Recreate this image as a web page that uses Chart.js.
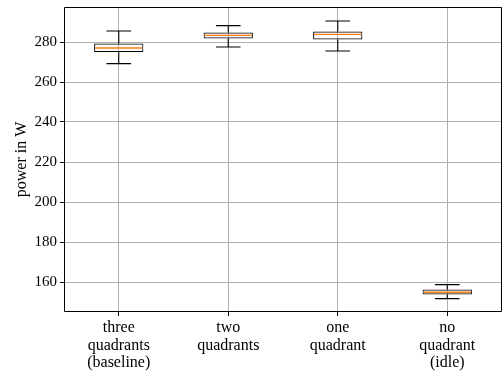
<!DOCTYPE html>
<html>
<head>
<meta charset="utf-8">
<script src="https://cdn.jsdelivr.net/npm/chart.js@4"></script>
<style>
html,body{margin:0;padding:0;background:#fff;}
#wrap{width:503px;height:371px;position:relative;}
</style>
</head>
<body>
<div id="wrap"><canvas id="c" width="503" height="371"></canvas></div>
<script>
const categories = [["three","quadrants","(baseline)"],["two","quadrants"],["one","quadrant"],["no","quadrant","(idle)"]];
const whiskerLow  = [269.2, 277.5, 275.5, 151.7];
const q1          = [275.0, 281.8, 281.2, 153.8];
const median      = [277.0, 283.3, 283.8, 154.9];
const q3          = [279.3, 284.8, 285.2, 156.2];
const whiskerHigh = [285.5, 288.2, 290.5, 158.7];
const yTicks = [160, 180, 200, 220, 240, 260, 280];
const yMin = 145, yMax = 297.5;

const FONT = "'Liberation Serif', 'DejaVu Serif', serif";

const boxPlugin = {
  id: 'boxParts',
  afterDatasetsDraw(chart) {
    const ctx = chart.ctx;
    const x = chart.scales.x, y = chart.scales.y;
    const step = x.getPixelForValue(1) - x.getPixelForValue(0);
    const capHalf = step * 0.225 / 2;
    const boxHalf = step * 0.45 / 2;
    ctx.save();
    for (let i = 0; i < categories.length; i++) {
      const cx = x.getPixelForValue(i);
      const yl = y.getPixelForValue(whiskerLow[i]);
      const yq1 = y.getPixelForValue(q1[i]);
      const yq3 = y.getPixelForValue(q3[i]);
      const yh = y.getPixelForValue(whiskerHigh[i]);
      const ym = y.getPixelForValue(median[i]);
      ctx.strokeStyle = '#000';
      ctx.lineWidth = 1.1;
      ctx.beginPath();
      ctx.moveTo(cx, yl); ctx.lineTo(cx, yq1);
      ctx.moveTo(cx, yq3); ctx.lineTo(cx, yh);
      ctx.moveTo(cx - capHalf, yl); ctx.lineTo(cx + capHalf, yl);
      ctx.moveTo(cx - capHalf, yh); ctx.lineTo(cx + capHalf, yh);
      ctx.stroke();
      ctx.strokeStyle = '#ff7f0e';
      ctx.lineWidth = 1.4;
      ctx.beginPath();
      ctx.moveTo(cx - boxHalf + 1, ym); ctx.lineTo(cx + boxHalf - 1, ym);
      ctx.stroke();
    }
    const a = chart.chartArea;
    const L = Math.round(a.left) + 0.5, T = Math.round(a.top) + 0.5;
    const R = Math.round(a.right) - 0.5, B = Math.round(a.bottom) - 0.5;
    ctx.strokeStyle = '#000';
    ctx.lineWidth = 1;
    ctx.beginPath();
    ctx.moveTo(L, T); ctx.lineTo(R, T); ctx.lineTo(R, B); ctx.lineTo(L, B); ctx.closePath();
    ctx.stroke();
    ctx.restore();
  }
};

new Chart(document.getElementById('c'), {
  type: 'bar',
  data: {
    labels: categories,
    datasets: [{
      data: q1.map((v, i) => [v, q3[i]]),
      backgroundColor: 'rgba(0,0,0,0)',
      borderColor: '#000',
      borderWidth: 1,
      borderSkipped: false,
      categoryPercentage: 1,
      barPercentage: 0.45
    }]
  },
  options: {
    responsive: false,
    animation: false,
    devicePixelRatio: 1,
    layout: { padding: { top: 7, right: 1, left: 0, bottom: 0 } },
    plugins: { legend: { display: false }, tooltip: { enabled: false } },
    scales: {
      x: {
        offset: true,
        grid: { display: true, color: '#b0b0b0', lineWidth: 1, offset: false, tickColor: '#000', tickLength: 4, drawTicks: true },
        border: { display: false },
        ticks: { color: '#000', padding: 3, maxRotation: 0, autoSkip: false, font: { family: FONT, size: 16, lineHeight: 1.1 } },
        afterFit(s) { s.height = 59; s.paddingLeft = 0; s.paddingRight = 0; }
      },
      y: {
        min: yMin, max: yMax,
        afterBuildTicks(s) { s.ticks = yTicks.map(v => ({ value: v })); },
        grid: { color: '#b0b0b0', lineWidth: 1, tickColor: '#000', tickLength: 4 },
        border: { display: false },
        ticks: { color: '#000', padding: 3, font: { family: FONT, size: 15 } },
        title: { display: true, text: 'power in W', color: '#000', font: { family: FONT, size: 16 }, padding: { top: 12, bottom: 0 } },
        afterFit(s) { s.width = 64; s.paddingTop = 0; s.paddingBottom = 0; }
      }
    }
  },
  plugins: [boxPlugin]
});
</script>
</body>
</html>
